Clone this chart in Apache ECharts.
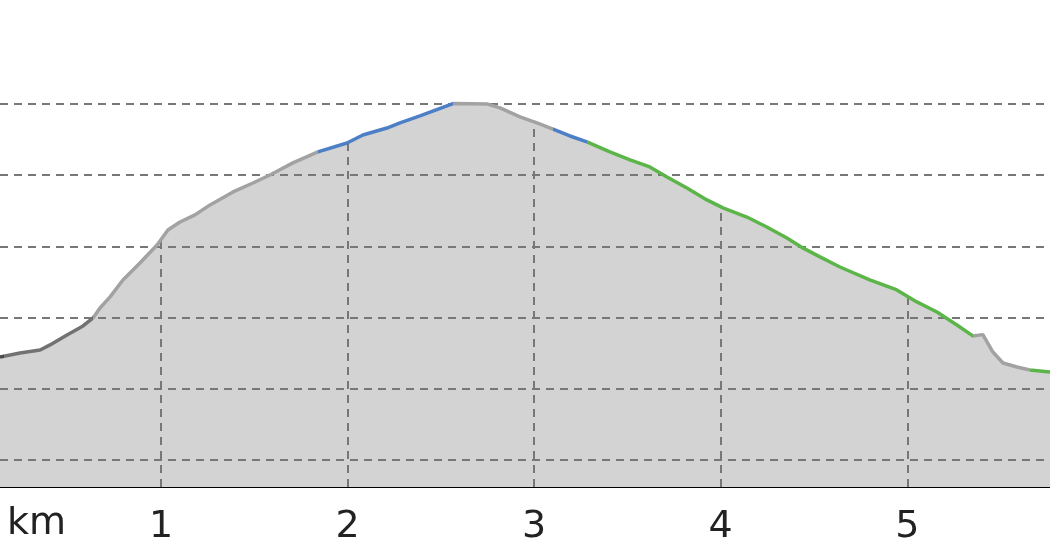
<!DOCTYPE html>
<html>
<head>
<meta charset="utf-8">
<script src="https://cdn.jsdelivr.net/npm/echarts@6/dist/echarts.min.js"></script>
<style>
html,body{margin:0;padding:0;background:#fff;}
#chart{width:1050px;height:560px;}
</style>
</head>
<body>
<div id="chart"></div>
<script>
// distance along route (km)
const distKm = [0.137,0.244,0.352,0.405,0.496,0.582,0.636,0.673,0.727,0.796,0.887,0.979,1.037,1.102,1.182,1.263,1.386,1.493,1.584,1.707,1.841,1.997,2.082,2.211,2.281,2.388,2.565,2.747,2.817,2.924,3.015,3.101,3.192,3.283,3.406,3.514,3.620,3.712,3.819,3.926,4.012,4.140,4.247,4.355,4.440,4.532,4.639,4.676,4.799,4.944,5.051,5.159,5.266,5.351,5.405,5.459,5.513,5.588,5.657,5.765];
// elevation (m)
const elevM = [1272.3,1275.1,1277.2,1280.8,1287.8,1294.1,1299.7,1306.7,1314.5,1326.4,1338.3,1351.0,1361.5,1367.1,1372.1,1379.1,1388.2,1394.5,1400.1,1408.6,1416.3,1422.6,1428.2,1433.1,1436.7,1441.6,1450.3,1450.0,1447.2,1440.9,1436.7,1432.4,1427.5,1423.3,1416.3,1410.7,1405.8,1398.7,1391.0,1382.6,1377.0,1370.6,1363.6,1355.9,1348.9,1342.6,1335.5,1333.4,1326.4,1319.4,1311.0,1303.9,1294.8,1287.1,1288.0,1275.8,1268.1,1265.3,1263.2,1261.8];
// x tick labels (km)
const xTicks = [1,2,3,4,5];
// horizontal grid values (m)
const yGridValues = [1200,1250,1300,1350,1400,1450];
// segment boundaries (km) and their slope classes
const segBreaks = [0.137,0.16,0.636,1.841,2.565,3.101,3.283,5.351,5.657,5.765];
const segClass = ['darkest','dark','flat','up','flat','down1','down','flat','down'];

const classColor = {darkest:'#4a4a4a', dark:'#727272', flat:'#a2a2a2', up:'#4d7fc6', down1:'#4d7fc6', down:'#5cb549'};

const pts = distKm.map((d,i)=>[d, elevM[i]]);
function elevAt(k){
  for(let i=0;i<distKm.length-1;i++){
    if(k>=distKm[i] && k<=distKm[i+1]){
      const t=(k-distKm[i])/(distKm[i+1]-distKm[i]);
      return elevM[i]+t*(elevM[i+1]-elevM[i]);
    }
  }
  return elevM[elevM.length-1];
}
const yMin = 1181, yMax = 1523;
const xMin = distKm[0], xMax = distKm[distKm.length-1];

const dashStyle = {type:[8,6], color:'#777', width:2};
const markData = yGridValues.map(v=>({yAxis:v}))
  .concat(xTicks.map(k=>[{coord:[k,yMin]},{coord:[k,elevAt(k)]}]));

const pieces = segClass.map((c,i)=>({gte:segBreaks[i], lt:segBreaks[i+1], color:classColor[c]}));
pieces[pieces.length-1].lte = segBreaks[segBreaks.length-1];
delete pieces[pieces.length-1].lt;

const chart = echarts.init(document.getElementById('chart'));
chart.setOption({
  animation:false,
  textStyle:{fontFamily:'DejaVu Sans'},
  grid:{left:0,right:0,top:0,bottom:73,containLabel:false},
  xAxis:{
    type:'value', min:xMin, max:xMax,
    axisLine:{show:true,lineStyle:{color:'#000',width:2}},
    axisTick:{show:false},
    splitLine:{show:false},
    axisLabel:{customValues:xTicks, fontSize:38, color:'#222', margin:21, fontFamily:'DejaVu Sans'}
  },
  yAxis:{
    type:'value', min:yMin, max:yMax,
    axisLine:{show:false}, axisTick:{show:false}, axisLabel:{show:false}, splitLine:{show:false}
  },
  visualMap:{type:'piecewise', show:false, dimension:0, seriesIndex:1, pieces:pieces},
  graphic:[{type:'text', left:7, top:505, style:{text:'km', fontSize:38, fill:'#222', fontFamily:'DejaVu Sans'}}],
  series:[
    {
      type:'line', data:pts, showSymbol:false, z:1,
      lineStyle:{width:0}, areaStyle:{color:'#d3d3d3', opacity:1},
      markLine:{silent:true, z:2, symbol:['none','none'], label:{show:false}, lineStyle:dashStyle, emphasis:{disabled:true}, data:markData}
    },
    {
      type:'line', data:pts, showSymbol:false, z:3,
      lineStyle:{width:3.5}
    }
  ]
});
</script>
</body>
</html>
